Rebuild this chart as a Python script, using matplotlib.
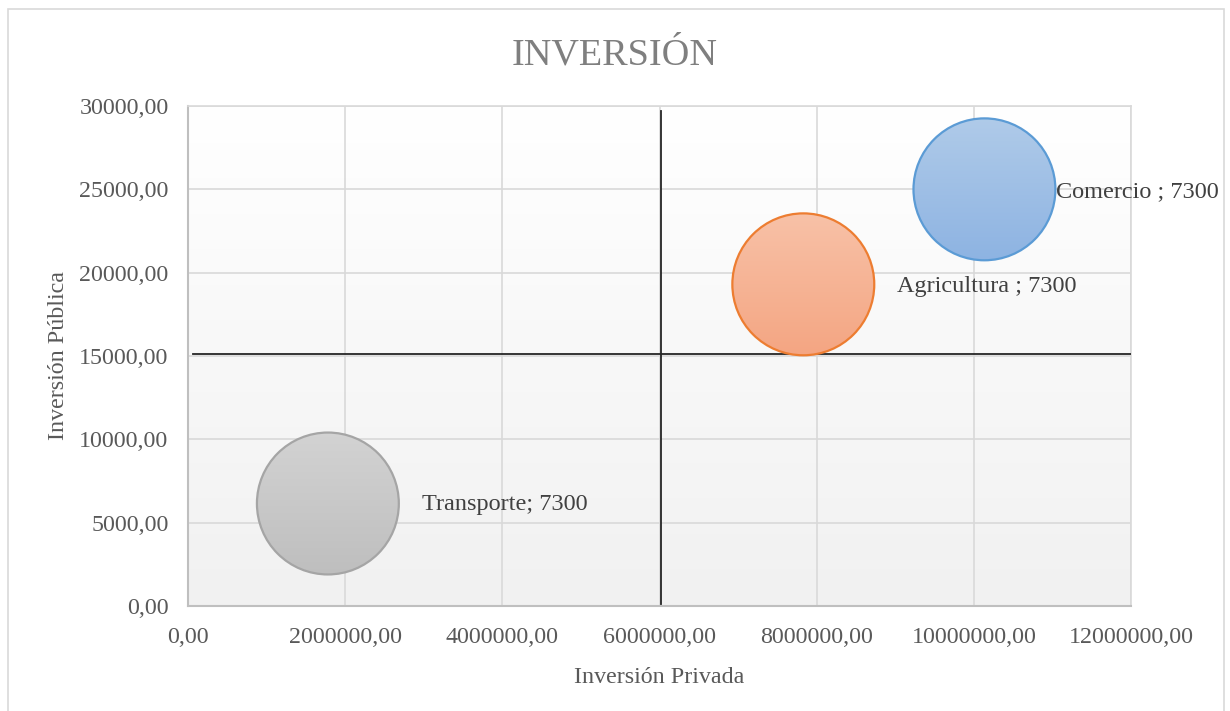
import numpy as np
import matplotlib
matplotlib.use("Agg")
import matplotlib.pyplot as plt
import matplotlib.patches as mpatches
import matplotlib.transforms as mtransforms
from matplotlib.colors import LinearSegmentedColormap

# ---- data ----
categories = ["Comercio", "Agricultura", "Transporte"]
inv_privada = [10135000, 7830000, 1780000]
inv_publica = [25000, 19300, 6150]
bubble_size = [7300, 7300, 7300]
label_text = ["Comercio ; 7300", "Agricultura ; 7300", "Transporte; 7300"]
x_ticks = [0, 2000000, 4000000, 6000000, 8000000, 10000000, 12000000]
y_ticks = [0, 5000, 10000, 15000, 20000, 25000, 30000]
quad_x = 6020000
quad_y = 15120

# ---- styles ----
edge_colors = ["#5b9bd5", "#ed7d31", "#a5a5a5"]
grad_top = ["#b0cbe9", "#f8c2a8", "#d3d3d3"]
grad_bot = ["#8db3e2", "#f4a582", "#bebebe"]
label_offsets = [(72, -2), (94, -2), (94, -1)]
SIZE_SCALE = 1.43
text_color = "#595959"
FS = 17.3

plt.rcParams['font.family'] = ['Liberation Serif', 'DejaVu Serif']

W, H, DPI = 1230, 711, 100
fig = plt.figure(figsize=(W / DPI, H / DPI), dpi=DPI)
ax = fig.add_axes([188 / W, 1 - 606 / H, (1131 - 188) / W, (606 - 106) / H])
ax.set_xlim(x_ticks[0], x_ticks[-1])
ax.set_ylim(y_ticks[0], y_ticks[-1])

# outer chart border
fig.add_artist(mpatches.Rectangle((8 / W, -0.02), (1224 - 8) / W, 1 - 9 / H + 0.02,
                                  transform=fig.transFigure, fill=False,
                                  edgecolor="#d9d9d9", linewidth=1.2))

# plot-area gradient background
bg = np.linspace(0, 1, 256).reshape(-1, 1)
bg_cmap = LinearSegmentedColormap.from_list("bg", ["#ffffff", "#f1f1f1"])
ax.imshow(bg, cmap=bg_cmap, aspect="auto", extent=[0, 1, 0, 1],
          transform=ax.transAxes, origin="upper", zorder=0, interpolation="bicubic")

ax.set_xticks(x_ticks)
ax.set_yticks(y_ticks)
fmt = lambda v: f"{v:.2f}".replace(".", ",")
ax.set_xticklabels([fmt(v) for v in x_ticks])
ax.set_yticklabels([fmt(v) for v in y_ticks])
ax.tick_params(axis="both", length=0, labelsize=FS, colors=text_color)
ax.tick_params(axis="x", pad=15)
ax.tick_params(axis="y", pad=14)
ax.grid(True, color="#d9d9d9", linewidth=1.2, zorder=1)
ax.set_axisbelow(True)
for side in ["top", "right"]:
    ax.spines[side].set_color("#d9d9d9")
    ax.spines[side].set_linewidth(1.2)
for side in ["left", "bottom"]:
    ax.spines[side].set_color("#bfbfbf")
    ax.spines[side].set_linewidth(1.5)

ax.set_xlabel("Inversión Privada", fontsize=FS, color=text_color, labelpad=14)
ax.set_ylabel("Inversión Pública", fontsize=FS, color=text_color, labelpad=7)
fig.text(0.5, 1 - 55 / H, "INVERSIÓN", ha="center", va="center",
         fontsize=27.5, color="#7f7f7f")

# quadrant lines
ax.plot([quad_x, quad_x], [120, 29700], color="#262626", linewidth=1.3, zorder=3)
ax.plot([60000, x_ticks[-1]], [quad_y, quad_y], color="#262626", linewidth=1.3, zorder=3)

# bubbles
sizes = np.array(bubble_size) * SIZE_SCALE
grad = np.linspace(0, 1, 256).reshape(-1, 1)
for i in range(len(categories)):
    x, y, s = inv_privada[i], inv_publica[i], sizes[i]
    r_disp = np.sqrt(s) / 2 * fig.dpi / 72.0
    cx, cy = ax.transData.transform((x, y))
    inv = ax.transData.inverted()
    (x0, y0) = inv.transform((cx - r_disp - 2, cy - r_disp - 2))
    (x1, y1) = inv.transform((cx + r_disp + 2, cy + r_disp + 2))
    cmap = LinearSegmentedColormap.from_list(f"b{i}", [grad_top[i], grad_bot[i]])
    im = ax.imshow(grad, cmap=cmap, aspect="auto", extent=[x0, x1, y0, y1],
                   origin="upper", zorder=4, interpolation="bicubic")
    circ = mpatches.Circle((cx, cy), r_disp, transform=mtransforms.IdentityTransform())
    im.set_clip_path(circ)
    ax.scatter([x], [y], s=[s], facecolors="none", edgecolors=edge_colors[i],
               linewidths=1.6, zorder=5)
    ax.annotate(label_text[i], (x, y), xytext=label_offsets[i],
                textcoords="offset pixels", ha="left", va="center",
                fontsize=FS + 0.2, color="#404040", zorder=6, annotation_clip=False)

ax.set_xlim(x_ticks[0], x_ticks[-1])
ax.set_ylim(y_ticks[0], y_ticks[-1])
fig.savefig("out.png", dpi=DPI)
